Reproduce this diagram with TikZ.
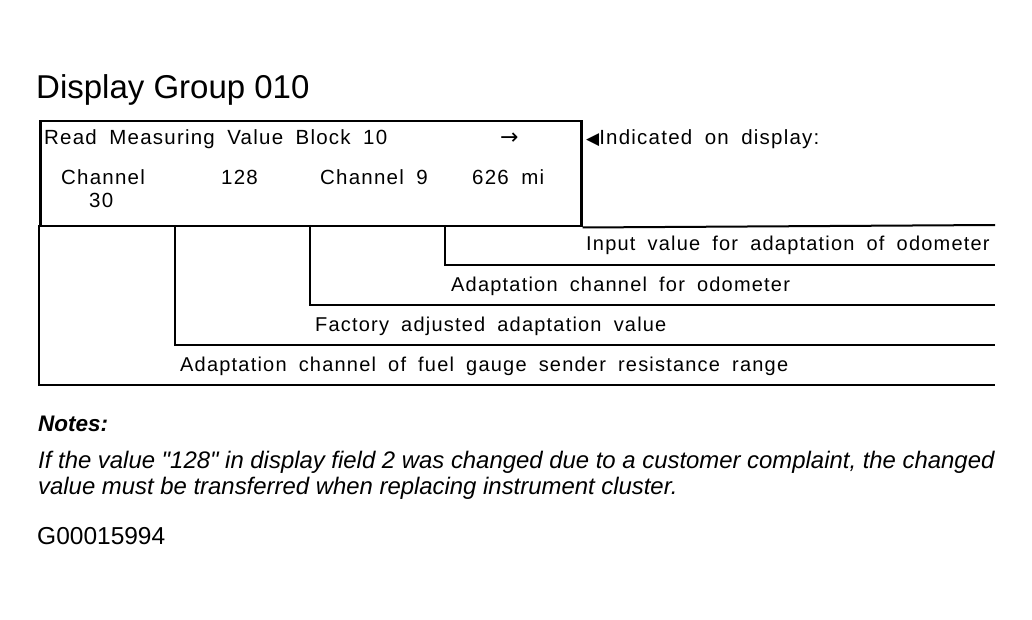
\documentclass[tikz,border=0pt]{standalone}
\usepackage{fontspec}
\setmainfont{Liberation Sans}
\newfontfamily\panelfont[LetterSpace=6,WordSpace=1.8]{Liberation Sans}
\newfontfamily\symfont{DejaVu Sans}
\usetikzlibrary{positioning}

\begin{document}
\begin{tikzpicture}[x=1pt,y=-1pt,
    panel/.style={draw=black, line width=2.5pt, minimum width=541pt, minimum height=105pt, inner sep=0pt, anchor=north west},
    lead/.style={draw=black, line width=2pt},
    readout/.style={anchor=base west, inner sep=0pt, font=\panelfont\fontsize{20.5}{22}\selectfont},
    legend/.style={anchor=base west, inner sep=0pt, font=\panelfont\fontsize{20}{22}\selectfont},
    note/.style={anchor=base west, inner sep=0pt, font=\fontsize{23.9}{26}\selectfont\itshape}
    ]
    \useasboundingbox (0,0) rectangle (1032,620);
    
    \node[anchor=base west, inner sep=0pt, font=\fontsize{33}{36}\selectfont] (title) at (36,99) {Display Group 010};
    
    % the display window
    \node[panel] (display) at (39,120) {};
    \node[readout] (block) at (44,145) {Read Measuring Value Block 10};
    \node[readout] (arrow) at (500,145) {{\symfont\fontsize{22}{22}\selectfont →}};
    \node[readout] (field1) at (61,185) {Channel};
    \node[readout] (field1b) at (89,208) {30};
    \node[readout] (field2) at (221,185) {128};
    \node[readout] (field3) at (320,185) {Channel 9};
    \node[readout] (field4) at (472,185) {626 mi};
    \node[readout] (indicated) at (586,145) {{\symfont\fontsize{17}{17}\selectfont ◀}Indicated on display:};
    
    \coordinate (rim) at (995,225);
    \draw[lead] (display.south east) -- (rim);
    
    % leader lines from each display field
    \foreach \bx/\by/\tx/\lbl in {39/385/180/{Adaptation channel of fuel gauge sender resistance range},
        175/345/315/{Factory adjusted adaptation value},
        310/305/451/{Adaptation channel for odometer},
        445/265/586/{Input value for adaptation of odometer}} {
        \coordinate (top\bx) at (\bx,225);
        \coordinate (end\bx) at (995,\by);
        \draw[lead] (top\bx) |- (end\bx);
        \node[legend] (lbl\bx) at (\tx,\by-14) {\lbl};
    }
    
    \node[anchor=base west, inner sep=0pt, font=\fontsize{22.5}{26}\selectfont\bfseries\itshape] (notes) at (38,431) {Notes:};
    \node[note] (line1) at (38,468) {If the value \textquotedbl 128\textquotedbl{} in display field 2 was changed due to a customer complaint, the changed};
    \node[note] (line2) at (38,494) {value must be transferred when replacing instrument cluster.};
    \node[anchor=base west, inner sep=0pt, font=\fontsize{24.5}{28}\selectfont] (figid) at (37,544) {G00015994};
    
\end{tikzpicture}
\end{document}
